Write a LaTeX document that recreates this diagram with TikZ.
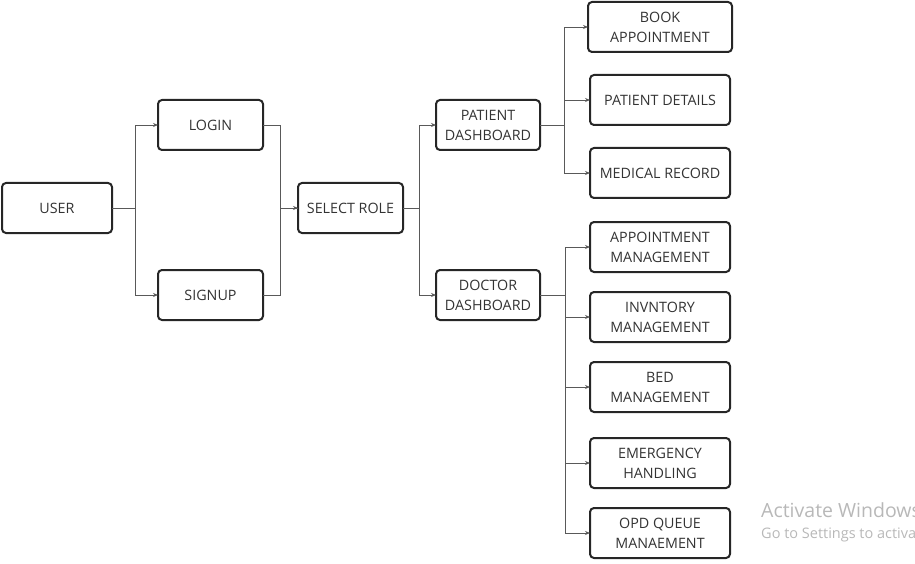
\documentclass[tikz,border=0pt]{standalone}
\usepackage{fontspec}
\setmainfont{Open Sans}
\usepackage{tikz}
\usetikzlibrary{positioning}
\usetikzlibrary{arrows.meta}

\begin{document}
\begin{tikzpicture}[x=1pt, y=-1pt,
    flowbox/.style={rectangle, draw=black!85, line width=2pt,
      rounded corners=4pt, minimum height=50pt, minimum width=105pt,
      align=center, text=black!80, inner sep=2pt, outer sep=0pt,
      font=\fontsize{14.3}{20}\selectfont},
    widebox/.style={flowbox, minimum width=140pt},
    conn/.style={draw=black!65, line width=0.9pt,
      -{Stealth[length=5pt, width=4pt]}},
    link/.style={draw=black!65, line width=0.9pt},
    watermark/.style={text=black!28, anchor=base west, inner sep=0pt}]
    \clip (0,0) rectangle (915,564);
    % Nodes
    \node[flowbox, minimum width=110pt] (user) at (57,208) {USER};
    \node[flowbox] (login) [above right=33pt and 46pt of user] {LOGIN};
    \node[flowbox] (signup) [below right=37pt and 46pt of user] {SIGNUP};
    \node[flowbox] (role) [right=186pt of user] {SELECT ROLE};
    \node[flowbox, minimum width=104pt] (patient) [above right=33pt and
    33pt of role] {PATIENT\\DASHBOARD};
    \node[flowbox, minimum width=104pt] (doctor) [below right=37pt and
    33pt of role] {DOCTOR\\DASHBOARD};
    \node[widebox, minimum width=144pt] (book) [above right=48pt and
    48pt of patient] {BOOK\\APPOINTMENT};
    \node[widebox] (details) [below=23pt of book] {PATIENT DETAILS};
    \node[widebox] (record) [below=23pt of details] {MEDICAL RECORD};
    \node[widebox] (appt) [below=24pt of record] {APPOINTMENT\\MANAGEMENT};
    \node[widebox] (stock) [below=20pt of appt] {INVNTORY\\MANAGEMENT};
    \node[widebox] (bed) [below=20pt of stock] {BED\\MANAGEMENT};
    \node[widebox] (emergency) [below=26pt of bed] {EMERGENCY\\HANDLING};
    \node[widebox] (opd) [below=20pt of emergency] {OPD QUEUE\\MANAEMENT};
    % Lines
    \draw[conn] (user.east) -- ++(23pt,0) |- (login.west);
    \draw[conn] (user.east) -- ++(23pt,0) |- (signup.west);
    \draw[conn] (login.east) -- ++(17pt,0) |- (role.west);
    \draw[link] (signup.east) -- ++(17pt,0) |- (role.west);
    \draw[conn] (role.east) -- ++(16pt,0) |- (patient.west);
    \draw[conn] (role.east) -- ++(16pt,0) |- (doctor.west);
    \foreach \t in {book, details, record}
      \draw[conn] (patient.east) -- ++(24pt,0) |- (\t.west);
    \foreach \t in {appt, stock, bed, emergency, opd}
      \draw[conn] (doctor.east) -- ++(25pt,0) |- (\t.west);
    % Watermark
    \node[watermark, font=\fontsize{19.5}{22}\selectfont] (wm1) at (761,517)
    {Activate Windows};
    \node[watermark, font=\fontsize{14.5}{17}\selectfont] (wm2) at (761,538)
    {Go to Settings to activate Windows.};
  \end{tikzpicture}
\end{document}
